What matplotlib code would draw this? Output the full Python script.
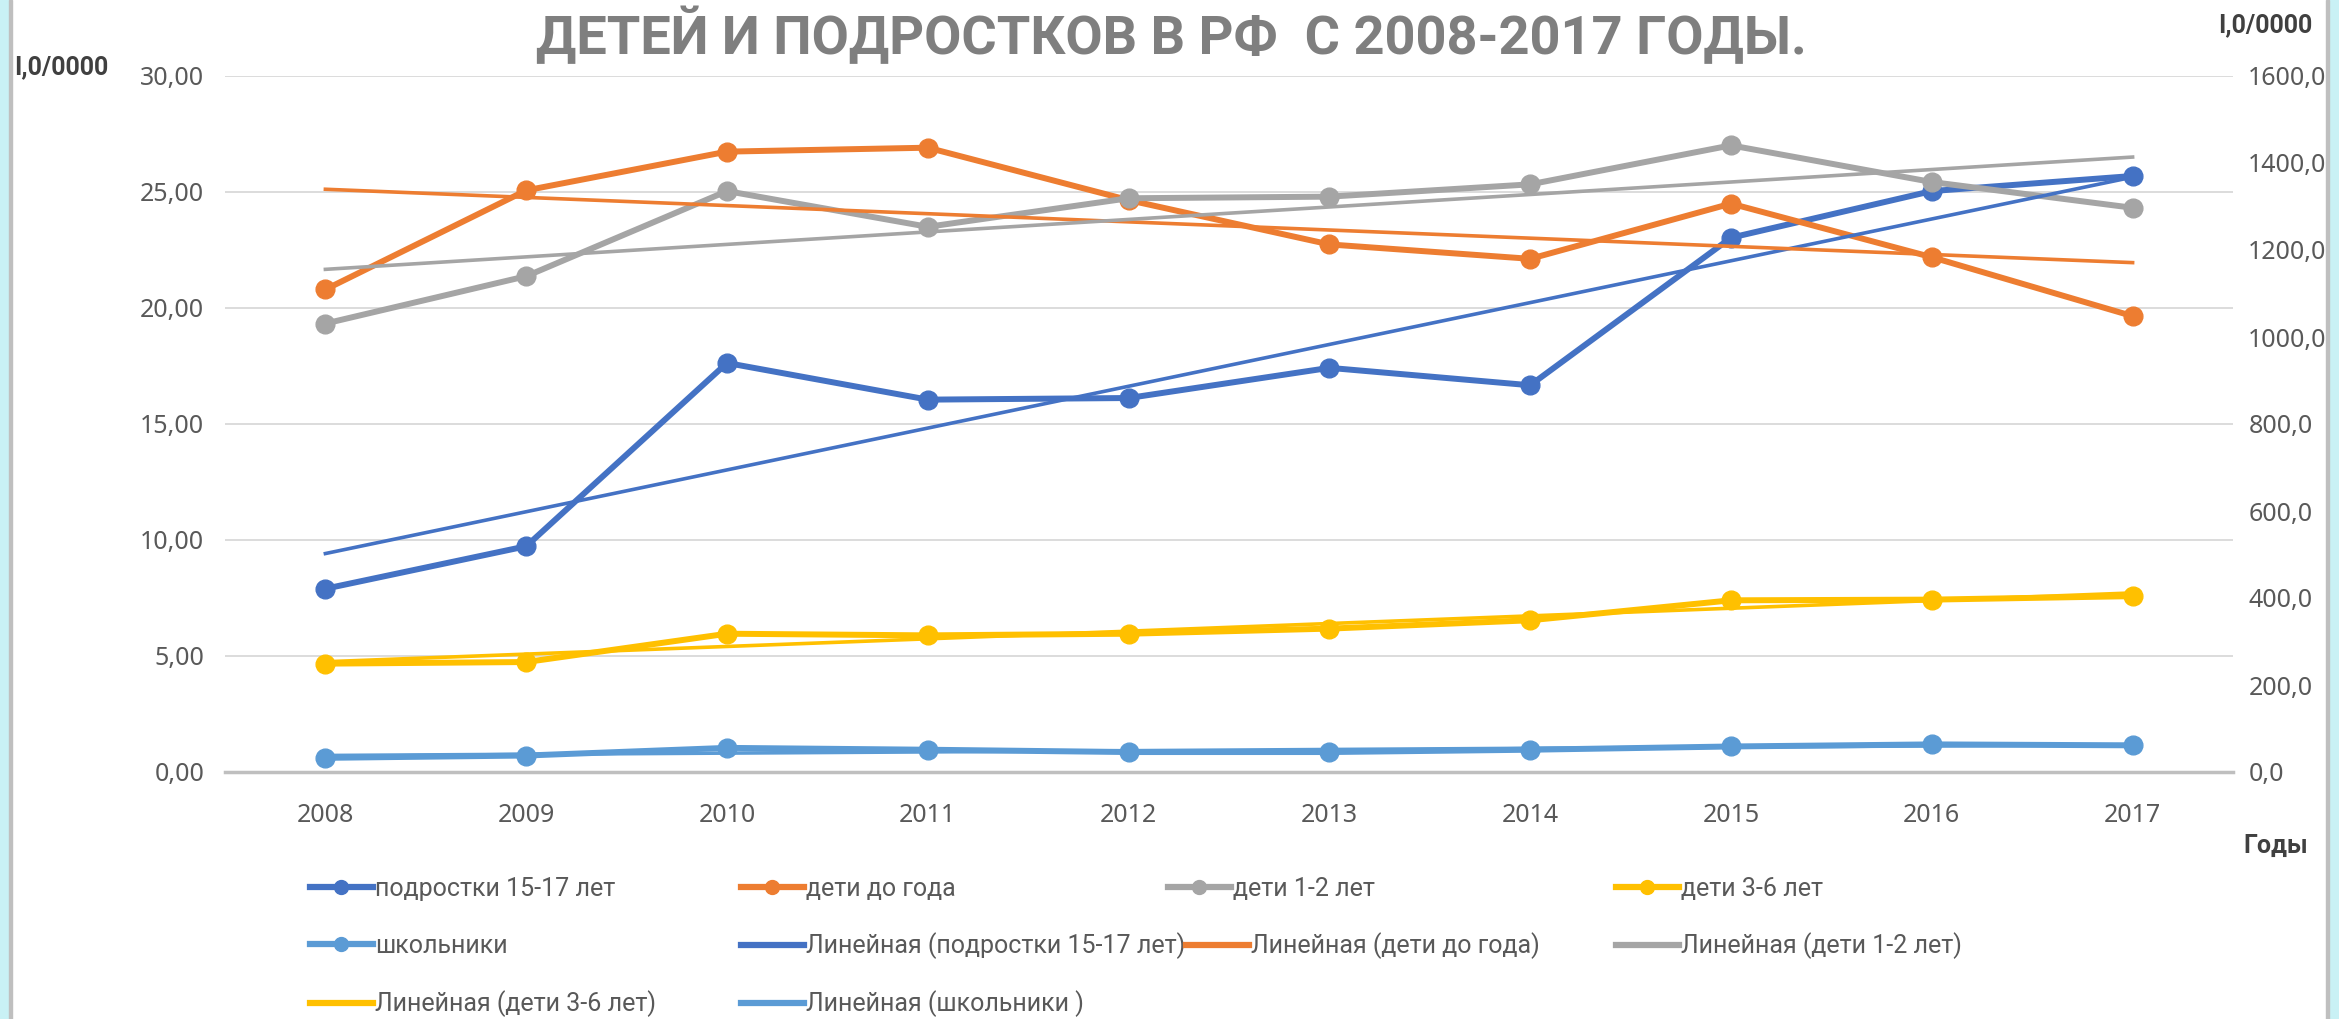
import matplotlib
matplotlib.use('Agg')
import matplotlib.pyplot as plt
import numpy as np
from matplotlib.lines import Line2D
from matplotlib.patches import Rectangle
from matplotlib.ticker import FuncFormatter
from matplotlib import font_manager

# ---------------- data ----------------
years = [2008, 2009, 2010, 2011, 2012, 2013, 2014, 2015, 2016, 2017]
teens = [7.90, 9.73, 17.63, 16.05, 16.12, 17.42, 16.67, 23.03, 25.04, 25.69]
infants = [20.80, 25.07, 26.74, 26.91, 24.65, 22.74, 22.12, 24.50, 22.19, 19.65]
kids_1_2 = [19.33, 21.37, 25.04, 23.50, 24.73, 24.80, 25.33, 27.01, 25.43, 24.32]
kids_3_6 = [4.67, 4.74, 5.96, 5.89, 5.96, 6.18, 6.54, 7.40, 7.43, 7.58]
schoolkids = [0.61, 0.71, 1.04, 0.96, 0.86, 0.86, 0.96, 1.10, 1.19, 1.15]

series_names = ["подростки 15-17 лет", "дети до года", "дети 1-2 лет", "дети 3-6 лет", "школьники"]
trend_names = ["Линейная (подростки 15-17 лет)", "Линейная (дети до года)",
               "Линейная (дети 1-2 лет)", "Линейная (дети 3-6 лет)", "Линейная (школьники )"]
colors = ["#4472C4", "#ED7D31", "#A5A5A5", "#FFC000", "#5B9BD5"]
left_ticks = [0, 5, 10, 15, 20, 25, 30]
right_ticks = [0, 200, 400, 600, 800, 1000, 1200, 1400, 1600]

title = "ДЕТЕЙ И ПОДРОСТКОВ В РФ  С 2008-2017 ГОДЫ."
axis_unit = "I,0/0000"
x_title = "Годы"

# ---------------- fonts ----------------
installed = {f.name for f in font_manager.fontManager.ttflist}
narrow = "Liberation Sans Narrow" in installed
base = "Roboto" if "Roboto" in installed else "DejaVu Sans"
leg_family = ["Liberation Sans Narrow", "DejaVu Sans"] if narrow else [base, "DejaVu Sans"]
leg_size = 21 if narrow else 18
title_family = ["Liberation Sans Narrow", "DejaVu Sans"] if narrow else [base, "DejaVu Sans"]
title_size = 44 if narrow else 39

# ---------------- figure ----------------
W, H = 2339, 1019
fig = plt.figure(figsize=(W / 100, H / 100), dpi=100)
fig.patch.set_facecolor("white")

# side decorations
fig.add_artist(Rectangle((0, 0), 9 / W, 1, transform=fig.transFigure, color="#C9F1F5", zorder=0))
fig.add_artist(Rectangle((9 / W, 0), 3 / W, 1, transform=fig.transFigure, color="#BFBFBF", zorder=0))
fig.add_artist(Rectangle((2328 / W, 0), 11 / W, 1, transform=fig.transFigure, color="#C9F1F5", zorder=0))
fig.add_artist(Rectangle((2326 / W, 0), 3 / W, 1, transform=fig.transFigure, color="#BFBFBF", zorder=0))

ax = fig.add_axes([225 / W, 247 / H, (2233 - 225) / W, (772 - 76) / H])
ax.set_facecolor("none")
x = np.arange(len(years))
all_series = [teens, infants, kids_1_2, kids_3_6, schoolkids]

for vals, col in zip(all_series, colors):
    ax.plot(x, vals, color=col, lw=4.3, marker="o", markersize=13.5, zorder=3,
            solid_capstyle="round")
for vals, col in zip(all_series, colors):
    k, b = np.polyfit(x, vals, 1)
    ax.plot(x, k * x + b, color=col, lw=2.6, zorder=4)

ax.set_xlim(-0.5, len(years) - 0.5)
ax.set_ylim(0, 30)
ax.set_yticks(left_ticks)
ax.yaxis.set_major_formatter(FuncFormatter(lambda v, p: f"{v:.2f}".replace(".", ",")))
ax.set_xticks(x)
ax.set_xticklabels([str(y) for y in years])
ax.grid(axis="y", color="#D9D9D9", lw=1.3, zorder=0)
ax.set_axisbelow(True)
for s in ["top", "right", "left"]:
    ax.spines[s].set_visible(False)
ax.spines["bottom"].set_color("#BFBFBF")
ax.spines["bottom"].set_linewidth(2.5)
ax.spines["bottom"].set_zorder(1)
tick_family = ["Noto Sans", "DejaVu Sans"]
tick_size = 18
ax.tick_params(axis="both", length=0, colors="#595959")
ax.tick_params(axis="x", pad=22)
ax.tick_params(axis="y", pad=15)
for lab in ax.get_xticklabels() + ax.get_yticklabels():
    lab.set_fontfamily(tick_family)
    lab.set_fontsize(tick_size)

ax2 = ax.twinx()
ax2.set_ylim(0, 1600)
ax2.set_yticks(right_ticks)
ax2.yaxis.set_major_formatter(FuncFormatter(lambda v, p: f"{v:.1f}".replace(".", ",")))
for s in ["top", "right", "left", "bottom"]:
    ax2.spines[s].set_visible(False)
ax2.tick_params(axis="y", length=0, colors="#595959", pad=11)
for lab in ax2.get_yticklabels():
    lab.set_fontfamily(tick_family)
    lab.set_fontsize(tick_size)

# texts
fig.text(1171 / W, 1 - 36 / H, title, ha="center", va="center", color="#7F7F7F",
         fontsize=title_size, fontweight="bold", family=title_family)
bold_family = [base, "DejaVu Sans"]
fig.text(14 / W, 1 - 67 / H, axis_unit, ha="left", va="center", color="#404040",
         fontsize=18, fontweight="bold", family=bold_family)
fig.text(2218 / W, 1 - 25 / H, axis_unit, ha="left", va="center", color="#404040",
         fontsize=18, fontweight="bold", family=bold_family)
fig.text(2243 / W, 1 - 846 / H, x_title, ha="left", va="center", color="#404040",
         fontsize=18, fontweight="bold", family=bold_family)

# legend (Excel-style grid: 4 columns, row-wise fill)
entries = []
for name, col in zip(series_names, colors):
    entries.append((Line2D([], [], color=col, lw=4.5, marker="o", markersize=10), name))
for name, col in zip(trend_names, colors):
    entries.append((Line2D([], [], color=col, lw=4.5), name))
col_x = [[310, 741, 1168, 1616],
         [310, 741, 1186, 1616],
         [310, 741, 1168, 1616]]
row_y = [889, 946, 1004]
leg_font = dict(family=leg_family, size=leg_size)
for i, (h, lab) in enumerate(entries):
    r, c = divmod(i, 4)
    lg = fig.legend(handles=[h], labels=[lab], loc="center left",
                    bbox_to_anchor=(col_x[r][c] / W, 1 - row_y[r] / H),
                    bbox_transform=fig.transFigure, frameon=False, borderpad=0,
                    borderaxespad=0, handlelength=2.5, handletextpad=0.1, prop=leg_font)
    for t in lg.get_texts():
        t.set_color("#595959")

fig.savefig("out.png", dpi=100)
